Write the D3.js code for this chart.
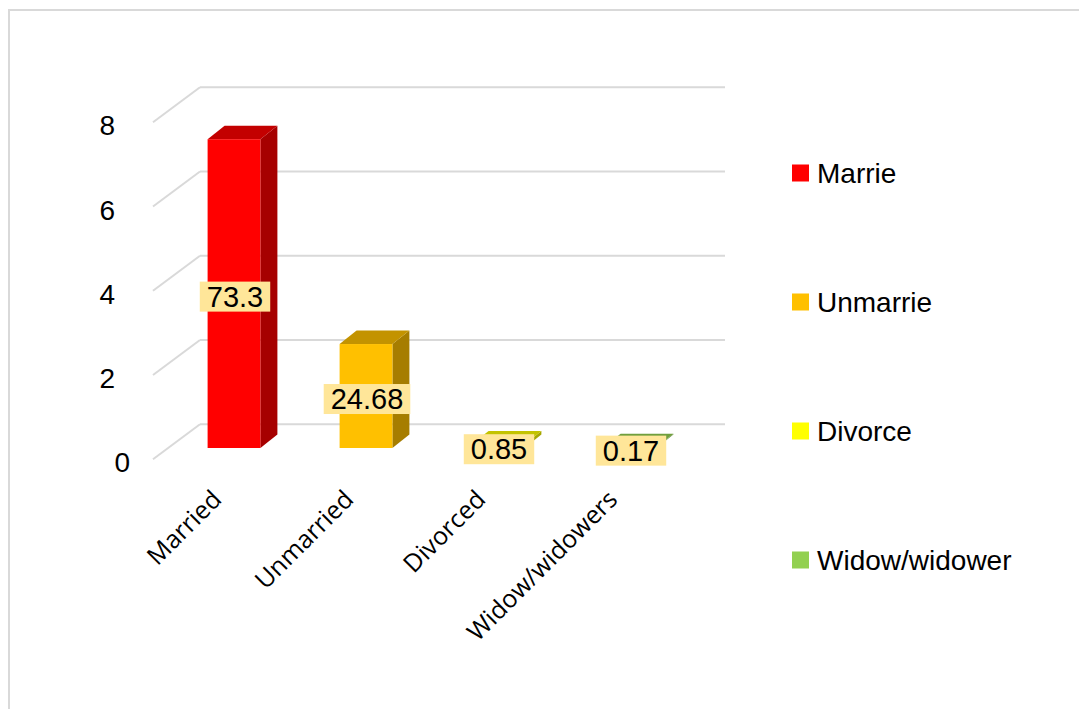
<!DOCTYPE html>
<html>
<head>
<meta charset="utf-8">
<script src="https://cdn.jsdelivr.net/npm/d3@7"></script>
<style>
  html, body { margin: 0; padding: 0; background: #fff; }
  svg { display: block; }
</style>
</head>
<body>
<svg id="chart" width="1079" height="709"></svg>
<script>
// Marital status shares (percent) by category
const categories = ["Married", "Unmarried", "Divorced", "Widow/widowers"];
const values = [73.3, 24.68, 0.85, 0.17];
const legendLabels = ["Marrie", "Unmarrie", "Divorce", "Widow/widower"];
const tickValues = [0, 20, 40, 60, 80];
const tickLabels = ["0", "2", "4", "6", "8"];
const palette = ["#ff0000", "#ffc000", "#ffff00", "#92d050"];

const W = 1079, H = 709;
const svg = d3.select("#chart");
svg.append("rect").attr("width", W).attr("height", H).attr("fill", "#fff");

// outer chart-area frame
svg.append("rect")
  .attr("x", 9).attr("y", 10).attr("width", 1200).attr("height", 900)
  .attr("fill", "none").attr("stroke", "#d9d9d9").attr("stroke-width", 2);

// oblique 3D geometry: bar front plane, bar depth, back wall, floor edge
const depth = { dx: 17, dy: -13.5 };          // bar depth offset
const wall = { dx: 32, dy: -23.7 };           // back wall relative to bar front plane
const floorFront = { dx: -15, dy: 11.3 };     // floor front edge relative to bar front plane

const x = d3.scaleBand().domain(categories).range([168, 696])
  .paddingInner(0.6).paddingOuter(0.3);
const y = d3.scaleLinear().domain([0, 80]).range([448, 111]);

const color = d3.scaleOrdinal().domain(categories).range(palette);

// gridlines on back wall and side wall
const grid = svg.append("g").attr("stroke", "#d9d9d9").attr("stroke-width", 2).attr("fill", "none");
const xL = x.range()[0], xR = x.range()[1];
tickValues.forEach(t => {
  const yb = y(t) + wall.dy;
  grid.append("line")
    .attr("x1", xL + wall.dx).attr("x2", xR + wall.dx - 3)
    .attr("y1", yb).attr("y2", yb);
  grid.append("line")
    .attr("x1", xL + floorFront.dx).attr("y1", y(t) + floorFront.dy)
    .attr("x2", xL + wall.dx).attr("y2", yb);
});

// y-axis tick labels
const font = "'Liberation Sans', Arial, sans-serif";
svg.append("g").selectAll("text").data(tickValues).join("text")
  .attr("x", (t, i) => xL + floorFront.dx - 38 + (t === 0 ? 15 : 0))
  .attr("y", t => y(t) + floorFront.dy + 13)
  .attr("text-anchor", "end")
  .attr("font-family", font).attr("font-size", 28).attr("fill", "#000")
  .text((t, i) => tickLabels[i]);

// 3D columns
const bars = svg.append("g");
categories.forEach((c, i) => {
  const x0 = x(c), x1 = x0 + x.bandwidth();
  const yt = y(values[i]), yb = y(0);
  const base = d3.color(color(c));
  const g = bars.append("g");
  // side face
  g.append("path")
    .attr("d", `M${x1},${yb}L${x1 + depth.dx},${yb + depth.dy}L${x1 + depth.dx},${yt + depth.dy}L${x1},${yt}Z`)
    .attr("fill", base.darker(1.2));
  // top face
  g.append("path")
    .attr("d", `M${x0},${yt}L${x0 + depth.dx},${yt + depth.dy}L${x1 + depth.dx},${yt + depth.dy}L${x1},${yt}Z`)
    .attr("fill", base.darker(0.75));
  // front face
  g.append("rect")
    .attr("x", x0).attr("y", yt).attr("width", x.bandwidth()).attr("height", yb - yt)
    .attr("fill", base);
});

// value labels with highlighted boxes
const labels = svg.append("g");
categories.forEach((c, i) => {
  const cx = x(c) + x.bandwidth() / 2 + 1;
  const cy = (y(values[i]) + y(0)) / 2 + 3;
  const g = labels.append("g");
  const box = g.append("rect").attr("fill", "#ffe699");
  const t = g.append("text")
    .attr("x", cx).attr("y", cy + 10)
    .attr("text-anchor", "middle")
    .attr("font-family", font).attr("font-size", 29).attr("fill", "#000")
    .text(values[i]);
  const w = t.node().getComputedTextLength() + 14;
  box.attr("x", cx - w / 2).attr("y", cy - 15).attr("width", w).attr("height", 30);
});

// rotated category labels
svg.append("g").selectAll("text").data(categories).join("text")
  .attr("transform", c => `translate(${x(c) + x.bandwidth() / 2 - 11},${501}) rotate(-45)`)
  .attr("text-anchor", "end")
  .attr("font-family", "'Open Sans', 'Noto Sans', sans-serif")
  .attr("font-size", 25).attr("fill", "#000")
  .text(c => c);

// legend
const legend = svg.append("g");
legendLabels.forEach((lab, i) => {
  const ly = 173 + i * 129;
  legend.append("rect")
    .attr("x", 792).attr("y", ly - 8.5).attr("width", 17).attr("height", 17)
    .attr("fill", palette[i]);
  legend.append("text")
    .attr("x", 817).attr("y", ly + 10)
    .attr("font-family", font).attr("font-size", 28).attr("fill", "#000")
    .text(lab);
});
</script>
</body>
</html>
